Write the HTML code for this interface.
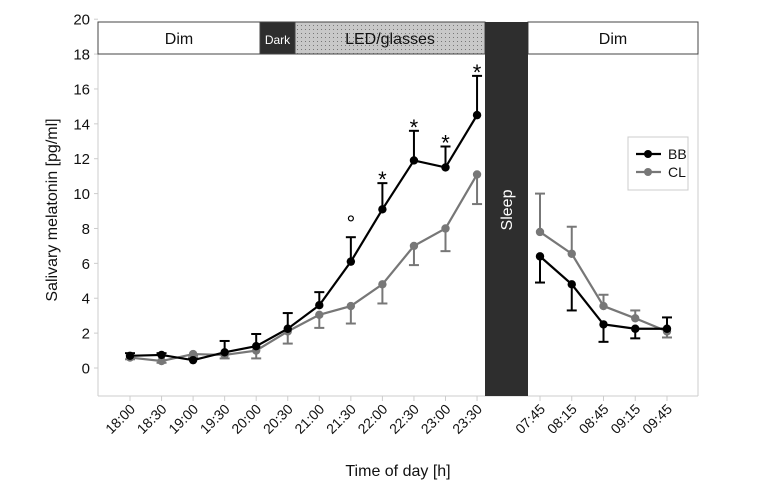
<!DOCTYPE html>
<html><head><meta charset="utf-8"><style>
body{margin:0;background:#fff;width:757px;height:497px;overflow:hidden}
text{font-family:"Liberation Sans",sans-serif}
</style></head><body>
<svg id="chart" width="757" height="497" viewBox="0 0 757 497" xmlns="http://www.w3.org/2000/svg">
<defs><pattern id="dots" width="4" height="4" patternUnits="userSpaceOnUse"><rect width="4" height="4" fill="#c8c8c8"/><rect x="1" y="1" width="1" height="1" fill="#777"/></pattern></defs>
<g id="g"></g>
</svg>
<script>
const eveLabels=["18:00","18:30","19:00","19:30","20:00","20:30","21:00","21:30","22:00","22:30","23:00","23:30"];
const mornLabels=["07:45","08:15","08:45","09:15","09:45"];
const bbEve=[0.7,0.75,0.45,0.9,1.25,2.25,3.6,6.1,9.1,11.9,11.5,14.5];
const bbEveErr=[0.15,0.1,0.1,0.65,0.7,0.9,0.75,1.4,1.5,1.7,1.2,2.25];
const clEve=[0.6,0.4,0.8,0.75,1.0,2.1,3.05,3.55,4.8,7.0,8.0,11.1];
const clEveErr=[-0.1,-0.1,-0.1,-0.2,-0.45,-0.7,-0.75,-1.0,-1.1,-1.1,-1.3,-1.7];
const bbMorn=[6.4,4.8,2.5,2.25,2.25];
const bbMornErr=[-1.5,-1.5,-1.0,-0.55,0.65];
const clMorn=[7.8,6.55,3.55,2.85,2.1];
const clMornErr=[2.2,1.55,0.65,0.45,-0.35];
const sigMarks=["","","","","","","","°","*","*","*","*"];
const yTicks=[0,2,4,6,8,10,12,14,16,18,20];

const NS="http://www.w3.org/2000/svg";const g=document.getElementById('g');
function el(t,a,txt){const e=document.createElementNS(NS,t);for(const k in a)e.setAttribute(k,a[k]);if(txt!==undefined)e.textContent=txt;g.appendChild(e);return e;}
const y=v=>368-v*17.44;
const xe=i=>130+i*31.55;
const xm=i=>540+i*31.75;
let e=el('line',{x1:98,y1:22,x2:98,y2:396,stroke:'#ccc'});

e=el('line',{x1:98,y1:396,x2:698,y2:396,stroke:'#ccc'});

el('line',{x1:698,y1:54,x2:698,y2:396,stroke:'#ccc'});
yTicks.forEach(v=>{el('line',{x1:94,y1:y(v),x2:98,y2:y(v),stroke:'#ccc'});
 e=el('text',{x:90,y:y(v)+5.5,'text-anchor':'end','font-size':15,fill:'#111'},v);
 });
function box(x1,x2,fill,label,col,fs,name){e=el('rect',{x:x1,y:22,width:x2-x1,height:32,fill:fill,stroke:'#444','stroke-width':1});
 
 e=el('text',{x:(x1+x2)/2,y:44,'text-anchor':'middle','font-size':fs,fill:col},label);
 }
box(98,260,'#fff','Dim','#111',16,'dim-evening-box');
box(260,295,'#2e2e2e','Dark','#fff',12,'dark-box');
box(295,485,'url(#dots)','LED/glasses','#111',16,'led-glasses-box');
box(528,698,'#fff','Dim','#111',16,'dim-morning-box');
e=el('rect',{x:485,y:22,width:43,height:374,fill:'#2e2e2e'});

e=el('text',{x:0,y:0,transform:'translate(512,210) rotate(-90)','text-anchor':'middle','font-size':16,fill:'#fff'},'Sleep');

function xt(x,l){el('line',{x1:x,y1:396,x2:x,y2:401,stroke:'#ccc'});
 e=el('text',{x:0,y:0,transform:`translate(${x+6},${410}) rotate(-45)`,'text-anchor':'end','font-size':14,fill:'#111'},l);
 }
eveLabels.forEach((l,i)=>xt(xe(i),l));mornLabels.forEach((l,i)=>xt(xm(i),l));
function series(vals,errs,xf,col,name){
 vals.forEach((v,i)=>{const x=xf(i),ye=y(v+errs[i]);
  e=el('line',{x1:x,y1:y(v),x2:x,y2:ye,stroke:col,'stroke-width':2});
  
  el('line',{x1:x-5,y1:ye,x2:x+5,y2:ye,stroke:col,'stroke-width':2});});
 e=el('polyline',{points:vals.map((v,i)=>xf(i)+','+y(v)).join(' '),fill:'none',stroke:col,'stroke-width':2.2});
 
 vals.forEach((v,i)=>{e=el('circle',{cx:xf(i),cy:y(v),r:4.2,fill:col});
  });}
series(clEve,clEveErr,xe,'#777','cl-evening');
series(clMorn,clMornErr,xm,'#777','cl-morning');
series(bbEve,bbEveErr,xe,'#000','bb-evening');
series(bbMorn,bbMornErr,xm,'#000','bb-morning');
sigMarks.forEach((s,i)=>{if(!s)return;
 if(s=='*'){e=el('text',{x:xe(i),y:y(bbEve[i]+bbEveErr[i])+4,'text-anchor':'middle','font-size':22,fill:'#000'},s);}
 else{e=el('text',{x:xe(i),y:y(bbEve[i]+bbEveErr[i])-6,'text-anchor':'middle','font-size':22,fill:'#000'},s);}
 });
e=el('text',{x:0,y:0,transform:'translate(57,210) rotate(-90)','text-anchor':'middle','font-size':16,fill:'#111'},'Salivary melatonin [pg/ml]');

e=el('text',{x:398,y:476,'text-anchor':'middle','font-size':16,fill:'#111'},'Time of day [h]');

e=el('rect',{x:628,y:137,width:60,height:53,fill:'#fff',stroke:'#ccc'});

[['BB','#000',154],['CL','#777',172]].forEach(([l,c,yy])=>{
 el('line',{x1:636,y1:yy,x2:661,y2:yy,stroke:c,'stroke-width':2.2});el('circle',{cx:648,cy:yy,r:4,fill:c});
 e=el('text',{x:668,y:yy+5,'font-size':14,fill:'#111'},l);
 });
</script>
</body></html>
